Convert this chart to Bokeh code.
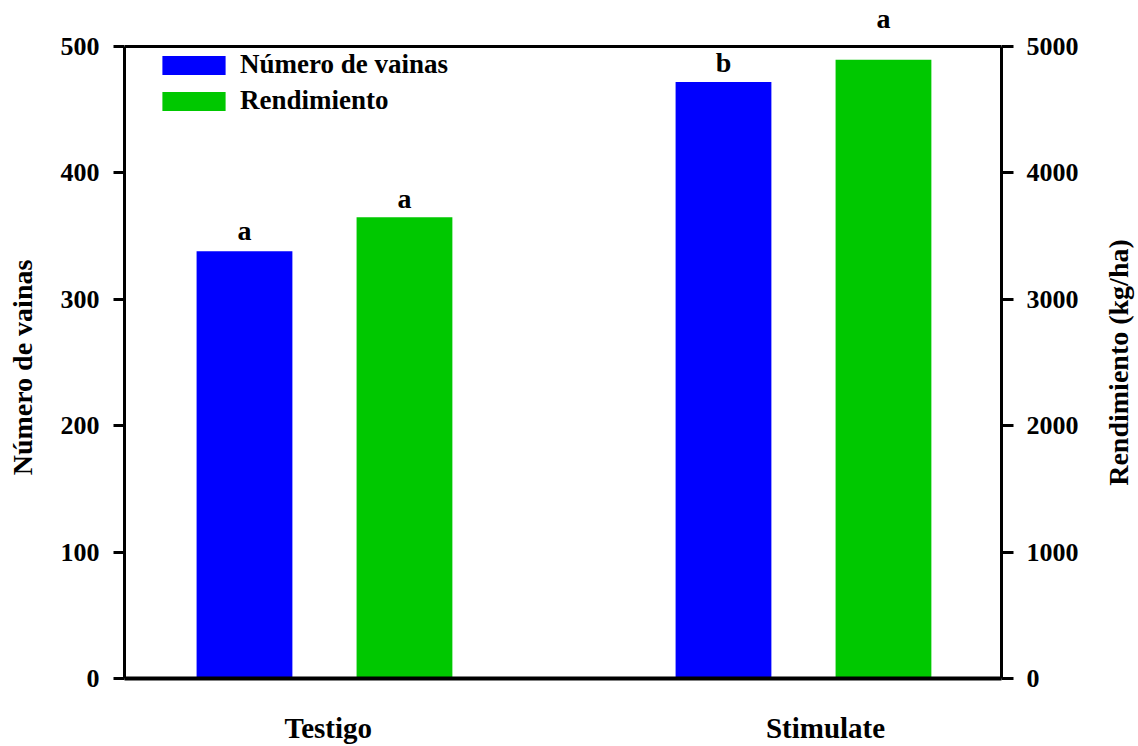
import math
from bokeh.plotting import figure
from bokeh.models import (Range1d, LinearAxis, FixedTicker, Span, Legend, LegendItem,
                          Label, ColumnDataSource, CustomJSTickFormatter)
from bokeh.transform import dodge
from bokeh.embed import file_html
from bokeh.resources import INLINE

# ---- data ----
categories = ["Testigo", "Stimulate"]
vainas = [338, 472]
rendimiento = [3650, 4895]
letras_vainas = ["a", "b"]
letras_rend = ["a", "a"]
vainas_ticks = [0, 100, 200, 300, 400, 500]
rend_ticks = [0, 1000, 2000, 3000, 4000, 5000]
label_vainas = "Número de vainas"
label_rend = "Rendimiento (kg/ha)"
series_names = ["Número de vainas", "Rendimiento"]

# ---- style ----
FONT = "Liberation Serif"
BLUE = "#0000FF"
GREEN = "#00C800"
OFF = 0.167
BW = 0.2
Y_TOP = 536.4                 # frame extends above 500 so letters are not clipped
PAD_L = "\u00a0" * 8          # shifts the centred left title down to the 0-500 span
PAD_LEG = "\u00a0" * 3        # widens the legend box so it masks the top border

xs = [i + 1 for i in range(len(categories))]
src = ColumnDataSource(dict(x=xs, vainas=vainas, rend=rendimiento))

p = figure(width=1138, height=746, x_range=Range1d(0.5825, 2.4134), y_range=Range1d(0, Y_TOP),
           output_backend="svg", toolbar_location=None,
           min_border_left=124, min_border_right=137, min_border_top=0, min_border_bottom=68,
           outline_line_color=None)
p.grid.visible = False
p.extra_y_ranges = {"rend": Range1d(0, Y_TOP * 10)}

# bars
r1 = p.vbar(x=dodge("x", -OFF), top="vainas", width=BW, source=src,
            fill_color=BLUE, line_color=None)
r2 = p.vbar(x=dodge("x", OFF), top="rend", width=BW, source=src, y_range_name="rend",
            fill_color=GREEN, line_color=None)

# top border
p.add_layout(Span(location=vainas_ticks[-1], dimension="width", line_color="black", line_width=3))

def style_axis(ax, fs="26px", lfs="28px"):
    ax.axis_line_width = 3
    ax.major_tick_line_width = 3
    ax.major_tick_in = 0
    ax.minor_tick_in = 0
    ax.minor_tick_out = 0
    ax.major_label_text_font = FONT
    ax.major_label_text_font_style = "bold"
    ax.major_label_text_font_size = fs
    ax.major_label_text_color = "black"
    ax.axis_label_text_font = FONT
    ax.axis_label_text_font_style = "bold"
    ax.axis_label_text_font_size = lfs
    ax.axis_label_text_color = "black"

# x axis
xa = p.xaxis[0]
style_axis(xa, fs="29px")
xa.axis_line_width = 4
xa.major_tick_out = 0
xa.ticker = FixedTicker(ticks=[xs[0] + 0.008, xs[1] + 0.046])
xa.formatter = CustomJSTickFormatter(args=dict(names=categories),
                                     code="return names[Math.round(tick) - 1];")
xa.major_label_standoff = 33

# left axis
ya = p.yaxis[0]
style_axis(ya)
ya.ticker = FixedTicker(ticks=vainas_ticks)
ya.bounds = (vainas_ticks[0], vainas_ticks[-1])
ya.major_tick_out = 11
ya.major_label_standoff = 14
ya.axis_label = label_vainas + PAD_L
ya.axis_label_standoff = 20

# right axis
ra = LinearAxis(y_range_name="rend", ticker=FixedTicker(ticks=rend_ticks),
                bounds=(rend_ticks[0], rend_ticks[-1]))
style_axis(ra)
ra.major_tick_out = 12
ra.major_label_standoff = 13
p.add_layout(ra, "right")

# right-hand title, reading bottom-to-top, centred on the 0-500 span
p.add_layout(Label(x=37, x_units="screen", y=(vainas_ticks[0] + vainas_ticks[-1]) / 2,
                   text=label_rend, angle=math.pi / 2, text_align="center",
                   text_baseline="middle", text_font=FONT, text_font_style="bold",
                   text_font_size="28px", text_color="black"), "right")

# significance letters
v_offsets = [21, 19]
r_offsets = [19, 41]
for i in range(len(categories)):
    p.add_layout(Label(x=xs[i] - OFF, y=vainas[i], y_offset=v_offsets[i], text=letras_vainas[i],
                       text_align="center", text_baseline="alphabetic", text_font=FONT,
                       text_font_style="bold", text_font_size="28px", text_color="black"))
    p.add_layout(Label(x=xs[i] + OFF, y=rendimiento[i], y_range_name="rend", y_offset=r_offsets[i],
                       text=letras_rend[i], text_align="center", text_baseline="alphabetic",
                       text_font=FONT, text_font_style="bold", text_font_size="28px",
                       text_color="black"))

legend = Legend(items=[LegendItem(label=series_names[0] + PAD_LEG, renderers=[r1]),
                       LegendItem(label=series_names[1], renderers=[r2])],
                location=(30, 562), padding=20, spacing=5,
                glyph_width=79, glyph_height=24, label_standoff=7,
                label_text_font=FONT, label_text_font_style="bold", label_text_font_size="27px",
                label_text_color="black", border_line_color=None,
                background_fill_color="white", background_fill_alpha=1.0)
p.add_layout(legend, "center")

open("out.html", "w").write(file_html(p, INLINE))
